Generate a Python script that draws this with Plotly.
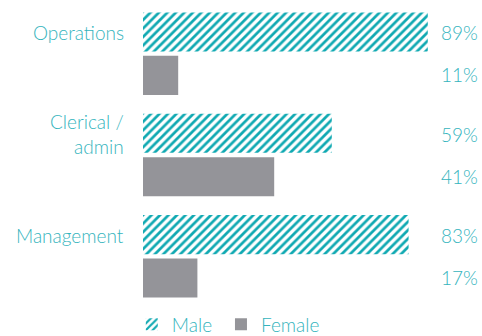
import plotly.graph_objects as go

# Workforce composition by role, percent of staff
categories = ["Operations", "Clerical /<br>admin", "Management"]
male = [89, 59, 83]
female = [11, 41, 17]

TEAL = "#10a9b2"
TEXT = "#34b4bd"
GREY = "#949499"
FONT = "Lato"
WEIGHT = 300
FSIZE = 19

W, H = 482, 336
ML, MR, MT, MB = 143, 0, 2.5, 28.5
plot_w = W - ML - MR
x_max = 100 * plot_w / 320  # 100% spans 320 px
value_col = 480             # right edge of the value column, px

fig = go.Figure()
fig.add_trace(go.Bar(
    y=categories, x=male, name="Male", orientation="h",
    marker=dict(color="white", line=dict(width=0),
                pattern=dict(shape="/", fgcolor=TEAL, bgcolor="white",
                             fgopacity=1, fillmode="replace",
                             size=6, solidity=0.45)),
    hoverinfo="skip", legend="legend",
))
fig.add_trace(go.Bar(
    y=categories, x=female, name="Female", orientation="h",
    marker=dict(color=GREY, line=dict(width=0)),
    hoverinfo="skip", legend="legend2",
))

font = dict(family=FONT, size=FSIZE, color=TEXT, weight=WEIGHT)
vx = (value_col - ML) / plot_w * x_max

annotations = []
for cat, m, f in zip(categories, male, female):
    # category label beside the male bar
    annotations.append(dict(
        x=0, xref="paper", y=cat, yref="y", xshift=-17, yshift=21,
        text=cat, showarrow=False, xanchor="right", yanchor="middle",
        align="right", font=font))
    # value labels in a column on the right
    annotations.append(dict(
        x=vx, xref="x", y=cat, yref="y", yshift=21,
        text=f"{m}%", showarrow=False, xanchor="right", yanchor="middle",
        font=font))
    annotations.append(dict(
        x=vx, xref="x", y=cat, yref="y", yshift=-21,
        text=f"{f}%", showarrow=False, xanchor="right", yanchor="middle",
        font=font))

legend_style = dict(orientation="h", xanchor="left", y=-0.057,
                    yanchor="middle", font=font, itemsizing="constant",
                    bgcolor="rgba(0,0,0,0)")

fig.update_layout(
    width=W, height=H,
    margin=dict(l=ML, r=MR, t=MT, b=MB, pad=0, autoexpand=False),
    paper_bgcolor="white", plot_bgcolor="white",
    barmode="group", bargap=0.143, bargroupgap=0.1,
    xaxis=dict(range=[0, x_max], visible=False, fixedrange=True),
    yaxis=dict(autorange="reversed", showticklabels=False, showgrid=False,
               zeroline=False, showline=False, ticks="", fixedrange=True),
    showlegend=True,
    legend=dict(x=-0.033, **legend_style),
    legend2=dict(x=0.230, **legend_style),
    annotations=annotations,
)

fig.write_html("out.html", config={"displayModeBar": False})
